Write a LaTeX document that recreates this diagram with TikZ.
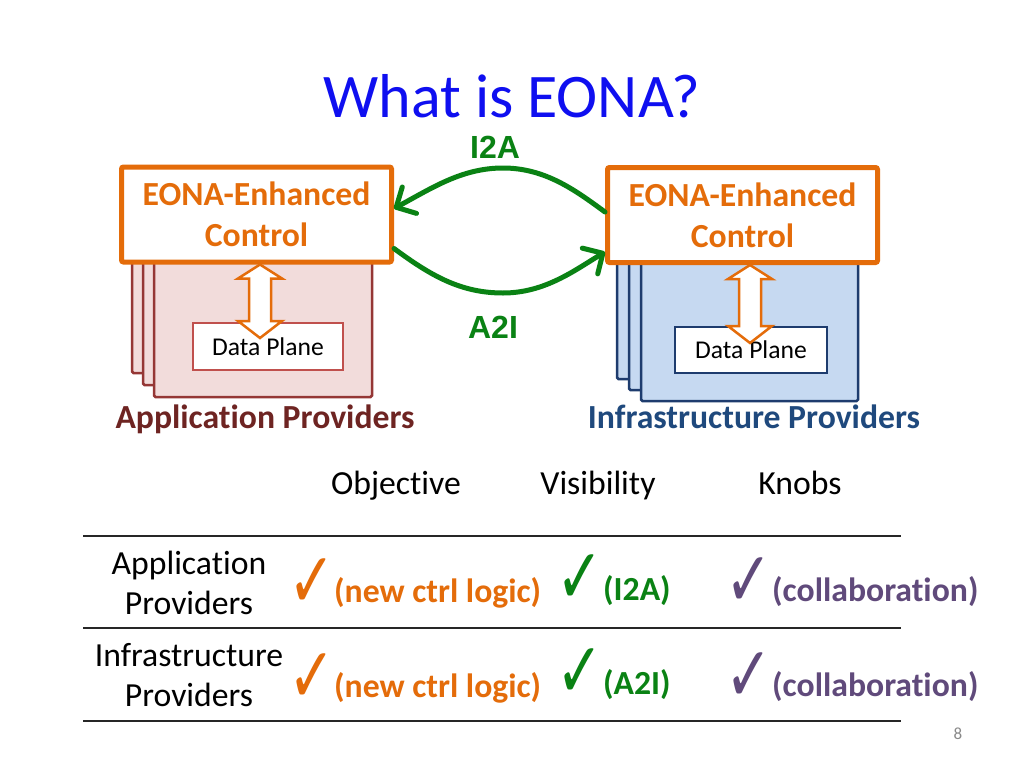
\documentclass[tikz,border=0pt]{standalone}
\usepackage{fontspec}
\setmainfont{Carlito}[Ligatures=NoCommon]
\newfontfamily\arialf{Liberation Sans}
\newfontfamily\symf{DejaVu Sans}
\usetikzlibrary{arrows.meta,calc}
\definecolor{eorange}{RGB}{228,108,10}
\definecolor{egreen}{RGB}{10,130,20}
\definecolor{epurple}{RGB}{96,74,123}
\definecolor{etitle}{RGB}{15,15,240}
\definecolor{emaroon}{RGB}{110,36,34}
\definecolor{enavy}{RGB}{31,73,125}
\definecolor{pinkfill}{RGB}{242,220,219}
\definecolor{pinkline}{RGB}{149,55,53}
\definecolor{dpred}{RGB}{192,80,77}
\definecolor{bluefill}{RGB}{198,217,241}
\definecolor{blueline}{RGB}{30,60,110}
\definecolor{pgray}{RGB}{137,137,137}
\newcommand\tickmk{\scalebox{1.12}[1.55]{\symf\fontsize{50}{50}\selectfont ✓}}
\tikzset{
  body/.style={font=\fontsize{33.7}{40}\selectfont, inner sep=0pt},
  bodyb/.style={font=\fontsize{33.7}{40}\selectfont\bfseries, inner sep=0pt},
  ctlbox/.style={draw=eorange, line width=5pt, fill=white, rounded corners=2pt,
     minimum width=270pt, minimum height=95pt, inner sep=0pt, align=center,
     text=eorange, font=\fontsize{33.7}{41}\selectfont\bfseries},
  stackL/.style={draw=pinkline, line width=2.5pt, fill=pinkfill, rounded corners=1.5pt},
  stackR/.style={draw=blueline, line width=2.5pt, fill=bluefill, rounded corners=1.5pt},
  dpbox/.style={fill=white, line width=2pt, inner sep=0pt,
     font=\fontsize{25.6}{30}\selectfont},
  flowarrow/.style={draw=egreen, line width=5pt, line cap=round,
     -{Straight Barb[length=15pt,width=30pt,round]}},
  flowlbl/.style={font=\arialf\bfseries\fontsize{32}{36}\selectfont, text=egreen, inner sep=0pt, anchor=base},
  dblarr/.style={draw=eorange, line width=2.5pt, fill=white, line join=miter},
  checkmk/.style={inner sep=0pt, anchor=base},
  rule/.style={line width=1.4pt, draw=black!85},
}
\begin{document}
\begin{tikzpicture}[x=1pt,y=-1pt]
\useasboundingbox (0,0) rectangle (1024,768);
\fill[white] (0,0) rectangle (1024,768);

% title
\node[font=\fontsize{62}{70}\selectfont, text=etitle, inner sep=0pt, anchor=base] (title) at (512,117) {What is EONA?};

% left stack
\draw[stackL] (132,240) rectangle (350,373);
\draw[stackL] (143,240) rectangle (361,385);
\draw[stackL] (154,240) rectangle (372,397);
% right stack
\draw[stackR] (617,240) rectangle (836,379);
\draw[stackR] (629,240) rectangle (847,390);
\draw[stackR] (641,240) rectangle (858,401);

% control boxes
\node[ctlbox] (ctlL) at (256.5,214.5) {EONA-Enhanced\\Control};
\node[ctlbox] (ctlR) at (742.5,215) {EONA-Enhanced\\Control};

% data planes
\node[dpbox, draw=dpred, minimum width=150pt, minimum height=47pt] (dpL) at (268,346.5) {Data Plane};
\node[dpbox, draw=blueline, minimum width=152pt, minimum height=46pt] (dpR) at (751,350) {Data Plane};

% double arrows (control <-> data plane)
\coordinate (daLt) at ($(ctlL.south)+(3.5,0)$);
\coordinate (daLb) at (260,338);
\coordinate (daRt) at ($(ctlR.south)+(7.5,0)$);
\coordinate (daRb) at (750,343);
\foreach \t/\b in {daLt/daLb, daRt/daRb}{
  \draw[dblarr] let \p1=(\t), \p2=(\b) in
    (\x1,\y1) -- (\x1+22,\y1-14) -- (\x1+11,\y1-14) -- (\x1+11,\y2+17)
    -- (\x1+22,\y2+17) -- (\x1,\y2) -- (\x1-22,\y2+17) -- (\x1-11,\y2+17)
    -- (\x1-11,\y1-14) -- (\x1-22,\y1-14) -- cycle;
}

% green flows
\coordinate (i2aS) at ([yshift=3pt]ctlR.west);
\coordinate (i2aE) at ([yshift=6pt]ctlL.east);
\coordinate (a2iS) at ([yshift=-34pt]ctlL.east);
\coordinate (a2iE) at ([yshift=-37pt]ctlR.west);
\draw[flowarrow] (i2aS) .. controls (575,190) and (545,168) .. (503,168)
   .. controls (462,168) and (432,188) .. (i2aE);
\draw[flowarrow] (a2iS) .. controls (430,275) and (460,293) .. (503,293)
   .. controls (545,293) and (575,270) .. (a2iE);
\node[flowlbl] (lI2A) at (495,158) {I2A};
\node[flowlbl] (lA2I) at (493,338) {A2I};

% provider labels
\node[bodyb, text=emaroon, anchor=base] (apL) at (265,428) {Application Providers};
\node[bodyb, text=enavy, anchor=base] (ipL) at (754,428) {Infrastructure Providers};

% table header
\node[body, anchor=base] (hObj) at (396,494) {Objective};
\node[body, anchor=base] (hVis) at (598,494) {Visibility};
\node[body, anchor=base] (hKnb) at (800,494) {Knobs};

% rules
\coordinate (r1a) at (83,536); \coordinate (r1b) at (901,536);
\coordinate (r2a) at (83,628); \coordinate (r2b) at (901,628);
\coordinate (r3a) at (83,721); \coordinate (r3b) at (901,721);
\draw[rule] (r1a) -- (r1b);
\draw[rule] (r2a) -- (r2b);
\draw[rule] (r3a) -- (r3b);

% row labels
\node[body, align=center] (rowA) at (189,583) {Application\\Providers};
\node[body, align=center] (rowI) at (189,675) {Infrastructure\\Providers};

% row 1
\node[checkmk, text=eorange] (c11) at (312,607) {\tickmk};
\node[bodyb, text=eorange, anchor=base west] (t11) at (334,602) {(new ctrl logic)};
\node[checkmk, text=egreen] (c12) at (580,603) {\tickmk};
\node[bodyb, text=egreen, anchor=base west] (t12) at (603,600) {(I2A)};
\node[checkmk, text=epurple] (c13) at (749,606) {\tickmk};
\node[bodyb, text=epurple, anchor=base west] (t13) at (772,601) {(collaboration)};
% row 2
\node[checkmk, text=eorange] (c21) at (312,702) {\tickmk};
\node[bodyb, text=eorange, anchor=base west] (t21) at (334,697) {(new ctrl logic)};
\node[checkmk, text=egreen] (c22) at (580,697) {\tickmk};
\node[bodyb, text=egreen, anchor=base west] (t22) at (603,694) {(A2I)};
\node[checkmk, text=epurple] (c23) at (749,701) {\tickmk};
\node[bodyb, text=epurple, anchor=base west] (t23) at (772,696) {(collaboration)};

% page number
\node[font=\fontsize{17}{20}\selectfont, text=pgray, inner sep=0pt, anchor=base] (pg) at (958,739) {8};
\end{tikzpicture}
\end{document}
